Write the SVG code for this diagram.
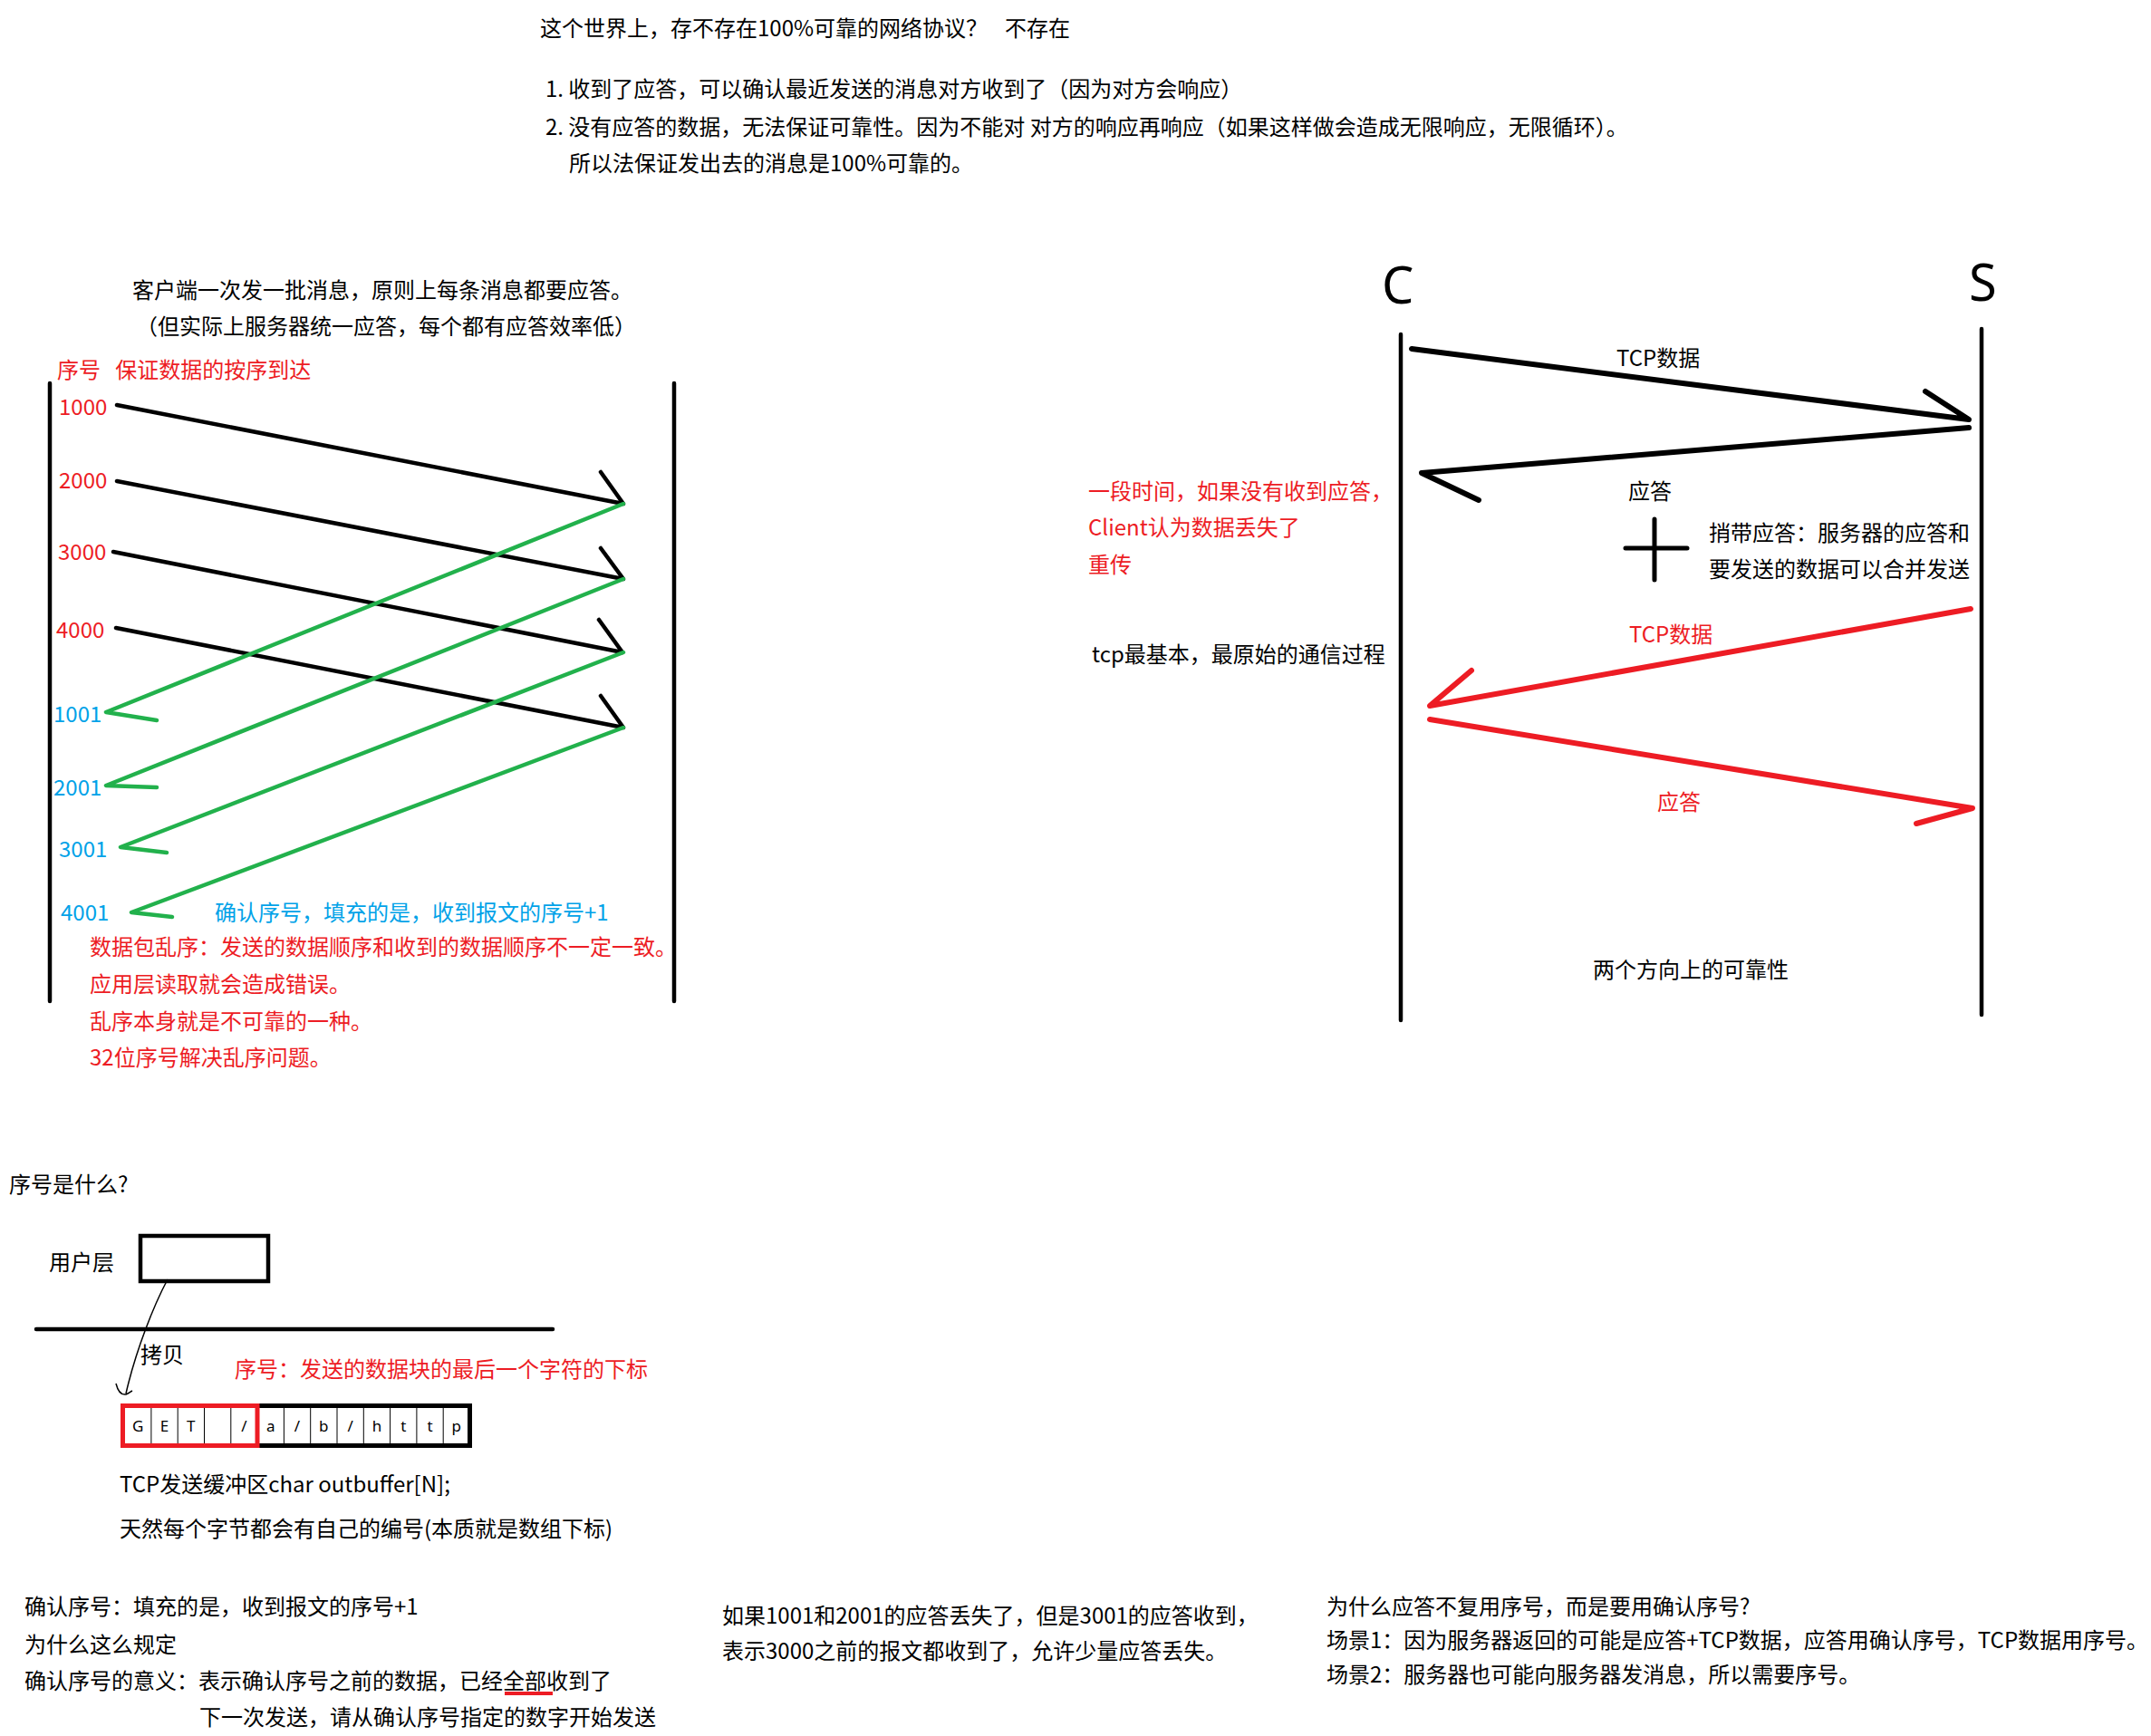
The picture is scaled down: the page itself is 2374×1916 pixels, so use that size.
<svg xmlns="http://www.w3.org/2000/svg" width="2374" height="1916" viewBox="0 0 2374 1916">
<style>
text{font-family:"Noto Sans CJK SC","Noto Sans",sans-serif;font-size:24px;fill:#000;white-space:pre}
.r{fill:#ed1c24}
.b{fill:#00a2e8}
.big{font-family:"Noto Sans","Open Sans",sans-serif;font-size:56px}
.cell{font-family:"Noto Sans",sans-serif;font-size:17px;text-anchor:middle}
.k{stroke:#000;fill:none;stroke-linecap:round;stroke-linejoin:round}
.g{stroke:#22b14c;fill:none;stroke-width:4.5;stroke-linecap:round;stroke-linejoin:round}
.rd{stroke:#ed1c24;fill:none;stroke-width:6;stroke-linecap:round;stroke-linejoin:round}
</style>
<rect width="2374" height="1916" fill="#fff"/>

<g id="intro">
<text x="596" y="40">这个世界上，存不存在100%可靠的网络协议？</text>
<text x="1109" y="40">不存在</text>
<text x="602" y="107">1. 收到了应答，可以确认最近发送的消息对方收到了（因为对方会响应）</text>
<text x="602" y="149">2. 没有应答的数据，无法保证可靠性。因为不能对 对方的响应再响应（如果这样做会造成无限响应，无限循环）。</text>
<text x="628" y="189">所以法保证发出去的消息是100%可靠的。</text>
</g>

<g id="left-notes">
<text x="146" y="329">客户端一次发一批消息，原则上每条消息都要应答。</text>
<text x="150" y="369">（但实际上服务器统一应答，每个都有应答效率低）</text>
<text class="r" x="63" y="417">序号   保证数据的按序到达</text>
</g>

<g id="client-line"><line class="k" stroke-width="4.5" x1="55" y1="423" x2="55" y2="1105"/></g>
<g id="server-line"><line class="k" stroke-width="4.5" x1="744" y1="423" x2="744" y2="1105"/></g>

<g id="seq-labels">
<text class="r" x="65" y="458">1000</text>
<text class="r" x="65" y="539">2000</text>
<text class="r" x="64" y="618">3000</text>
<text class="r" x="62" y="704">4000</text>
<text class="b" x="59" y="797">1001</text>
<text class="b" x="59" y="878">2001</text>
<text class="b" x="65" y="946">3001</text>
<text class="b" x="67" y="1016">4001</text>
<text class="b" x="237" y="1016">确认序号，填充的是，收到报文的序号+1</text>
</g>

<g id="disorder-notes">
<text class="r" x="99" y="1054">数据包乱序：发送的数据顺序和收到的数据顺序不一定一致。</text>
<text class="r" x="99" y="1095">应用层读取就会造成错误。</text>
<text class="r" x="99" y="1136">乱序本身就是不可靠的一种。</text>
<text class="r" x="99" y="1176">32位序号解决乱序问题。</text>
</g>

<g id="connectors">
<!-- left: data arrows -->
<polyline class="k" stroke-width="4.5" points="129,447 688,556 663,521"/>
<polyline class="k" stroke-width="4.5" points="129,531 688,639 663,605"/>
<polyline class="k" stroke-width="4.5" points="125,609 687,720 661,684"/>
<polyline class="k" stroke-width="4.5" points="128,693 688,803 663,768"/>
<!-- left: ack arrows -->
<polyline class="g" points="688,556 117,786 173,795"/>
<polyline class="g" points="688,639 117,867 173,869"/>
<polyline class="g" points="688,720 133,935 184,941"/>
<polyline class="g" points="688,803 145,1007 190,1012"/>
<!-- right: C/S -->
<polyline class="k" stroke-width="6" points="1558,385 2173,463 2125,432"/>
<polyline class="k" stroke-width="6" points="2173,472 1569,522 1632,552"/>
<polyline class="rd" points="2175,672 1578,779 1624,740"/>
<polyline class="rd" points="1578,794 2177,892 2115,909"/>
<!-- copy curve -->
<path d="M185,1412 C170,1440 150,1490 139,1538" stroke="#000" stroke-width="1.5" fill="none"/>
<path d="M128,1527 C130,1535 133,1540 139,1539 C142,1538 144,1536 146,1535" stroke="#000" stroke-width="1.5" fill="none"/>
</g>

<g id="C-node">
<text class="big" x="1525" y="335">C</text>
<line class="k" stroke-width="4.5" x1="1546" y1="369" x2="1546" y2="1126"/>
</g>
<g id="S-node">
<text class="big" x="2173" y="332">S</text>
<line class="k" stroke-width="4.5" x1="2187" y1="363" x2="2187" y2="1120"/>
</g>

<g id="cs-labels">
<text x="1784" y="404">TCP数据</text>
<text x="1797" y="551">应答</text>
<line class="k" stroke-width="5" x1="1826" y1="573" x2="1826" y2="640"/>
<line class="k" stroke-width="5" x1="1794" y1="605" x2="1862" y2="605"/>
<text x="1886" y="597">捎带应答：服务器的应答和</text>
<text x="1886" y="637">要发送的数据可以合并发送</text>
<text class="r" x="1201" y="551">一段时间，如果没有收到应答，</text>
<text class="r" x="1201" y="591">Client认为数据丢失了</text>
<text class="r" x="1201" y="632">重传</text>
<text x="1205" y="731">tcp最基本，最原始的通信过程</text>
<text class="r" x="1798" y="709">TCP数据</text>
<text class="r" x="1829" y="894">应答</text>
<text x="1758" y="1079">两个方向上的可靠性</text>
</g>

<g id="seq-what">
<text x="10" y="1316">序号是什么?</text>
<text x="54" y="1402">用户层</text>
<rect x="155" y="1364" width="141" height="50" fill="none" stroke="#000" stroke-width="4.5"/>
<line class="k" stroke-width="4.5" x1="40" y1="1467" x2="610" y2="1467"/>
<text x="155" y="1504">拷贝</text>
<text class="r" x="259" y="1520">序号：发送的数据块的最后一个字符的下标</text>
</g>

<g id="buffer">
<rect x="135.5" y="1551.5" width="383" height="44" fill="#fff" stroke="#000" stroke-width="5"/>
<g stroke="#000" stroke-width="1">
<line x1="166.9" y1="1553" x2="166.9" y2="1594"/>
<line x1="196.2" y1="1553" x2="196.2" y2="1594"/>
<line x1="225.5" y1="1553" x2="225.5" y2="1594"/>
<line x1="254.8" y1="1553" x2="254.8" y2="1594"/>
<line x1="313.4" y1="1553" x2="313.4" y2="1594"/>
<line x1="342.7" y1="1553" x2="342.7" y2="1594"/>
<line x1="372" y1="1553" x2="372" y2="1594"/>
<line x1="401.3" y1="1553" x2="401.3" y2="1594"/>
<line x1="430.6" y1="1553" x2="430.6" y2="1594"/>
<line x1="459.9" y1="1553" x2="459.9" y2="1594"/>
<line x1="489.2" y1="1553" x2="489.2" y2="1594"/>
</g>
<rect x="135.5" y="1551.5" width="148.5" height="44" fill="none" stroke="#ed1c24" stroke-width="5"/>
<text class="cell" x="152.2" y="1580">G</text>
<text class="cell" x="181.5" y="1580">E</text>
<text class="cell" x="210.8" y="1580">T</text>
<text class="cell" x="269.4" y="1580">/</text>
<text class="cell" x="298.7" y="1580">a</text>
<text class="cell" x="328" y="1580">/</text>
<text class="cell" x="357.3" y="1580">b</text>
<text class="cell" x="386.6" y="1580">/</text>
<text class="cell" x="415.9" y="1580">h</text>
<text class="cell" x="445.2" y="1580">t</text>
<text class="cell" x="474.5" y="1580">t</text>
<text class="cell" x="503.8" y="1580">p</text>
<text x="132" y="1647">TCP发送缓冲区char outbuffer[N];</text>
<text x="132" y="1696">天然每个字节都会有自己的编号(本质就是数组下标)</text>
</g>

<g id="ack-meaning">
<text x="27" y="1782">确认序号：填充的是，收到报文的序号+1</text>
<text x="27" y="1824">为什么这么规定</text>
<text x="27" y="1864">确认序号的意义：表示确认序号之前的数据，已经全部收到了</text>
<line x1="557" y1="1869" x2="610" y2="1869" stroke="#ed1c24" stroke-width="4"/>
<text x="220" y="1904">下一次发送，请从确认序号指定的数字开始发送</text>
</g>

<g id="loss-note">
<text x="797" y="1792">如果1001和2001的应答丢失了，但是3001的应答收到，</text>
<text x="797" y="1831">表示3000之前的报文都收到了，允许少量应答丢失。</text>
</g>

<g id="why-ack">
<text x="1464" y="1782">为什么应答不复用序号，而是要用确认序号?</text>
<text x="1464" y="1819">场景1：因为服务器返回的可能是应答+TCP数据，应答用确认序号，TCP数据用序号。</text>
<text x="1464" y="1857">场景2：服务器也可能向服务器发消息，所以需要序号。</text>
</g>
</svg>
